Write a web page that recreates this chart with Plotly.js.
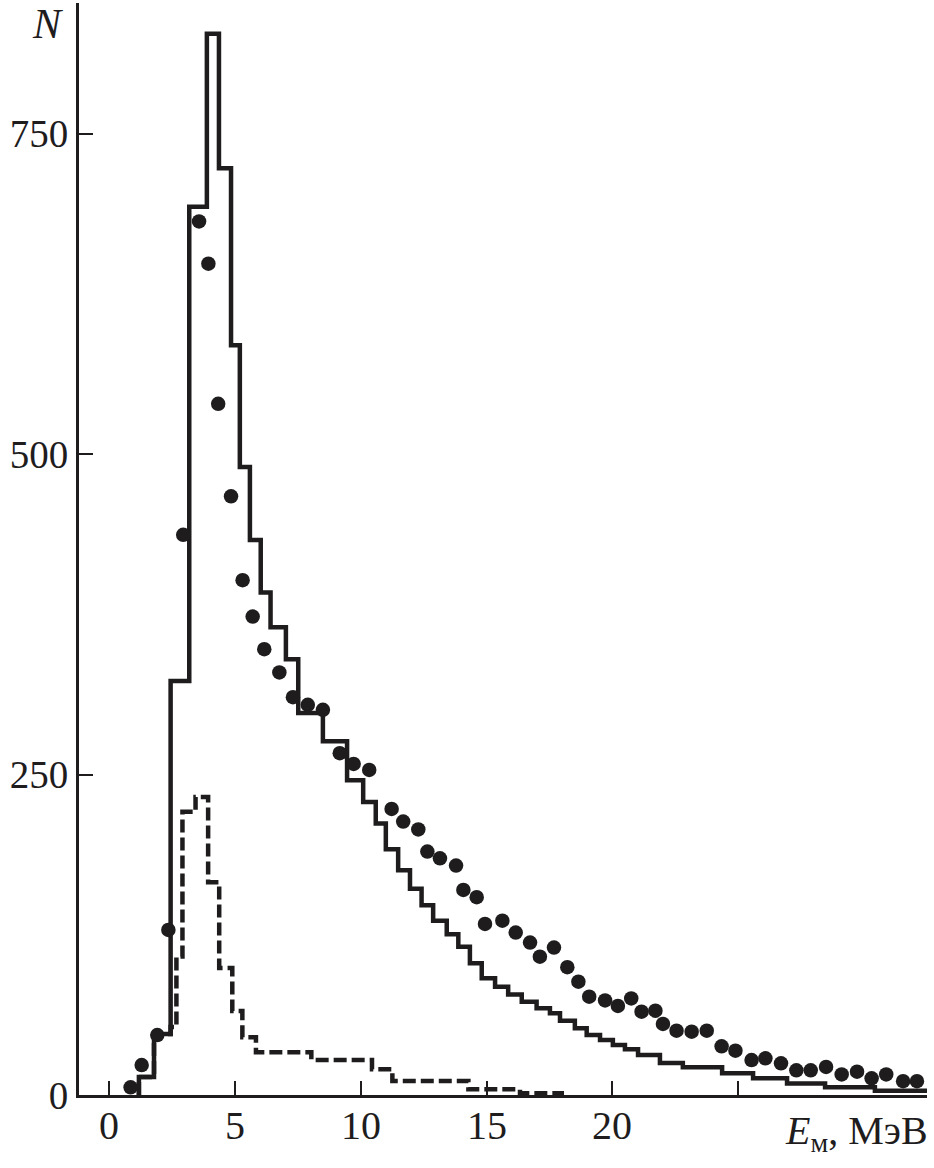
<!DOCTYPE html>
<html>
<head>
<meta charset="utf-8">
<script src="https://cdn.plot.ly/plotly-3.0.1.min.js"></script>
<style>html,body{margin:0;padding:0;background:#fff;}#chart{width:934px;height:1168px;}</style>
</head>
<body>
<div id="chart"></div>
<script>
// Solid histogram: bin edges (MeV) and counts
const solidEdges = [1.19, 1.79, 2.45, 3.19, 3.89, 4.37, 4.85, 5.20, 5.60, 6.03, 6.42, 7.03, 7.52, 8.50, 9.46,
  10.10, 10.60, 11.00, 11.49, 11.96, 12.42, 12.88, 13.42, 13.88, 14.34, 14.81, 15.34, 15.86, 16.40, 16.99,
  17.52, 17.92, 18.51, 18.98, 19.51, 20.02, 20.50, 21.02, 21.89, 22.80, 24.36, 25.59, 26.94, 28.45, 30.43, 32.50];
const solidCounts = [14, 47.5, 323, 693, 828, 723, 585, 490, 433, 392, 365, 340, 298, 276, 245.6,
  228.7, 211.8, 191.8, 175.4, 161, 148, 136, 125.5, 115.6, 102.7, 91, 84.4, 78.5, 72.7, 67.6,
  63.7, 58, 52, 46.8, 42.9, 39, 35.6, 31.2, 25, 21.6, 17, 13, 9, 6, 3.4];

// Dashed histogram: bin edges (MeV) and counts
const dashEdges = [1.19, 1.79, 2.45, 2.68, 2.92, 3.44, 3.94, 4.38, 4.90, 5.30, 5.84, 8.04, 10.45, 11.26, 14.28, 16.33, 17.99];
const dashCounts = [14, 47.5, 53, 108, 221, 232.6, 166, 99, 65.5, 45, 33.3, 27.3, 20, 11, 4.4, 1.3];

// Points
const dotE = [0.86, 1.30, 1.92, 2.36, 2.95, 3.58, 3.95, 4.34, 4.85, 5.31, 5.71, 6.17, 6.77, 7.31, 7.90, 8.50,
  9.17, 9.72, 10.34, 11.23, 11.69, 12.29, 12.65, 13.15, 13.79, 14.08, 14.61, 14.94, 15.63, 16.16, 16.73,
  17.12, 17.68, 18.21, 18.65, 19.08, 19.71, 20.22, 20.75, 21.16, 21.71, 22.01, 22.55, 23.15, 23.75, 24.34,
  24.89, 25.53, 26.08, 26.70, 27.31, 27.88, 28.49, 29.11, 29.72, 30.30, 30.88, 31.55, 32.10];
const dotN = [6.0, 23.4, 46.8, 128.8, 437.1, 681.6, 648.6, 539.3, 467.1, 401.7, 373.3, 347.8, 329.7, 310.4, 304.4, 300.5,
  266.7, 258.3, 253.6, 223.2, 213.3, 207.2, 189.9, 184.7, 179.0, 160.0, 154.3, 133.5, 136.0, 126.7, 118.9,
  107.9, 115.0, 99.7, 88.4, 76.7, 73.8, 69.5, 75.3, 65.0, 65.8, 55.4, 50.2, 49.4, 50.2, 38.0,
  34.6, 27.3, 28.6, 24.7, 19.3, 19.3, 21.9, 16.0, 18.2, 13.0, 16.0, 10.8, 10.8];

// Axis ticks
const xTickVals = [0, 5, 10, 15, 20, 25];
const xTickText = ['0', '5', '10', '15', '20', ''];
const yTickVals = [0, 250, 500, 750];
const yTickText = ['0', '250', '500', '750'];

function stepXY(edges, counts, dropEnd) {
  const x = [edges[0]], y = [0];
  for (let i = 0; i < counts.length; i++) { x.push(edges[i]); y.push(counts[i]); }
  x.push(edges[edges.length - 1]); y.push(counts[counts.length - 1]);
  if (dropEnd) { x.push(edges[edges.length - 1]); y.push(0); }
  return {x, y};
}

const ink = '#1e1c1d';
const s = stepXY(solidEdges, solidCounts, false);
const d = stepXY(dashEdges, dashCounts, true);

const traces = [
  {x: d.x, y: d.y, type: 'scatter', mode: 'lines', line: {shape: 'hv', color: ink, width: 4.5, dash: '13px,5px'}, hoverinfo: 'skip', cliponaxis: false},
  {x: s.x, y: s.y, type: 'scatter', mode: 'lines', line: {shape: 'hv', color: ink, width: 4.5}, hoverinfo: 'skip', cliponaxis: false},
  {x: dotE, y: dotN, type: 'scatter', mode: 'markers', marker: {size: 14.5, color: ink, line: {width: 0}}, cliponaxis: false}
];

const serif = '"Liberation Serif", "DejaVu Serif", serif';
const font = {family: serif, size: 40, color: ink};

// x tick labels placed just under the axis (as in the reference)
const xLabelAnns = xTickVals.map((v, i) => ({
  text: xTickText[i], x: v, xref: 'x', y: -0.0279, yref: 'paper',
  xanchor: 'center', yanchor: 'middle', showarrow: false, font: font
})).filter(a => a.text !== '');

const layout = {
  width: 934, height: 1168,
  margin: {l: 79, r: 7, t: 3, b: 73},
  paper_bgcolor: '#fff', plot_bgcolor: '#fff',
  showlegend: false,
  font: font,
  xaxis: {
    range: [-1.19, 32.5], showgrid: false, zeroline: false,
    showline: true, linecolor: ink, linewidth: 3,
    ticks: 'inside', ticklen: 14, tickwidth: 2, tickcolor: ink,
    tickmode: 'array', tickvals: xTickVals, showticklabels: false
  },
  yaxis: {
    range: [0, 852], showgrid: false, zeroline: false,
    showline: true, linecolor: ink, linewidth: 3,
    ticks: 'inside', ticklen: 14, tickwidth: 2, tickcolor: ink,
    tickmode: 'array', tickvals: yTickVals, ticktext: yTickText, tickfont: {family: serif, size: 39, color: ink}
  },
  annotations: [
    {text: '<i>N</i>', xref: 'paper', yref: 'paper', x: -0.037, y: 0.981, xanchor: 'center', yanchor: 'middle', showarrow: false, font: {family: serif, size: 42, color: ink}},
    {text: '<i>E</i><sub>м</sub>, МэВ', xref: 'paper', yref: 'paper', x: 1.004, y: -0.035, xanchor: 'right', yanchor: 'middle', showarrow: false, font: font}
  ].concat(xLabelAnns)
};

Plotly.newPlot('chart', traces, layout, {staticPlot: true, displayModeBar: false});
</script>
</body>
</html>
